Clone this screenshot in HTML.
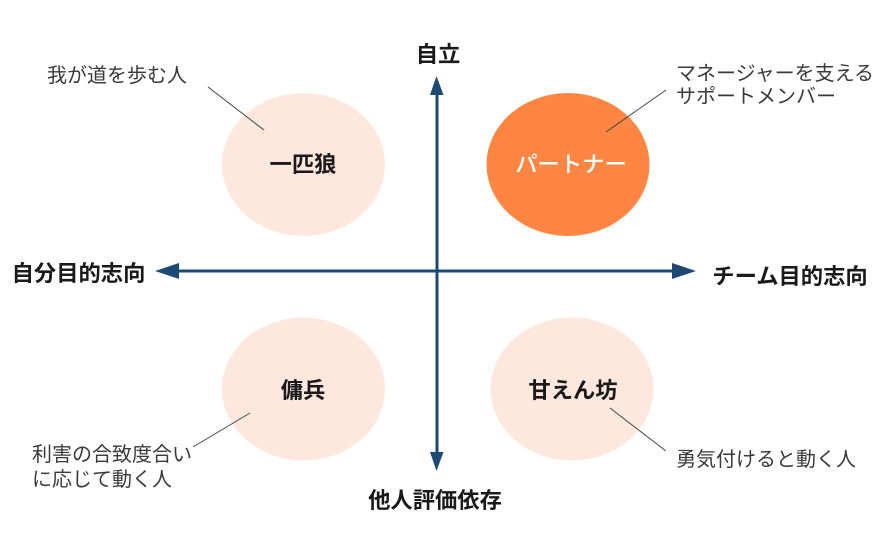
<!DOCTYPE html>
<html lang="ja">
<head>
<meta charset="utf-8">
<style>
html,body{margin:0;padding:0;background:#fff;}
svg{display:block;}
text{font-family:"Liberation Sans","Noto Sans CJK JP",sans-serif;}
.b{font-size:22.300px;font-weight:700;fill:#1a1a1a;}
.s{font-size:20px;font-weight:400;fill:#3a3a3a;}
</style>
</head>
<body>
<svg width="884" height="550" viewBox="0 0 884 550" xmlns="http://www.w3.org/2000/svg">
<rect width="884" height="550" fill="#fff"/>
<ellipse cx="303.500" cy="164.500" rx="81.500" ry="71.500" fill="#fee7dc"/>
<ellipse cx="568" cy="164.500" rx="81.500" ry="71.500" fill="#ff8642"/>
<ellipse cx="303.500" cy="389" rx="81.500" ry="71.500" fill="#fee7dc"/>
<ellipse cx="572" cy="389" rx="81.500" ry="71.500" fill="#fee7dc"/>
<g stroke="#1c4a75" stroke-width="3" fill="none">
<line x1="437" y1="92" x2="437" y2="456"/>
<line x1="176" y1="271" x2="676" y2="271"/>
</g>
<g fill="#1c4a75">
<polygon points="436.500,76 430,95 443.500,95"/>
<polygon points="436.500,471 430,452 443.500,452"/>
<polygon points="155,271 179,263 179,279"/>
<polygon points="696,271 672,263 672,279"/>
</g>
<g stroke="#444" stroke-width="1" fill="none">
<line x1="208" y1="87" x2="264" y2="130"/>
<line x1="666" y1="90" x2="606" y2="132"/>
<line x1="193" y1="447" x2="250" y2="413"/>
<line x1="610" y1="408" x2="666" y2="451"/>
</g>
<text class="b" x="438" y="62" text-anchor="middle">自立</text>
<text class="b" x="78.500" y="281" text-anchor="middle">自分目的志向</text>
<text class="b" x="790" y="284" text-anchor="middle">チーム目的志向</text>
<text class="b" x="435" y="508" text-anchor="middle">他人評価依存</text>
<text class="b" x="303" y="172" text-anchor="middle">一匹狼</text>
<text class="b" x="571" y="172" text-anchor="middle" style="fill:#fff;font-weight:500">パートナー</text>
<text class="b" x="303" y="398" text-anchor="middle">傭兵</text>
<text class="b" x="573" y="398" text-anchor="middle">甘えん坊</text>
<text class="s" x="47" y="82">我が道を歩む人</text>
<text class="s" x="676" y="80">マネージャーを支える</text>
<text class="s" x="676" y="103">サポートメンバー</text>
<text class="s" x="32" y="461">利害の合致度合い</text>
<text class="s" x="32" y="486">に応じて動く人</text>
<text class="s" x="676" y="466">勇気付けると動く人</text>
</svg>
</body>
</html>
